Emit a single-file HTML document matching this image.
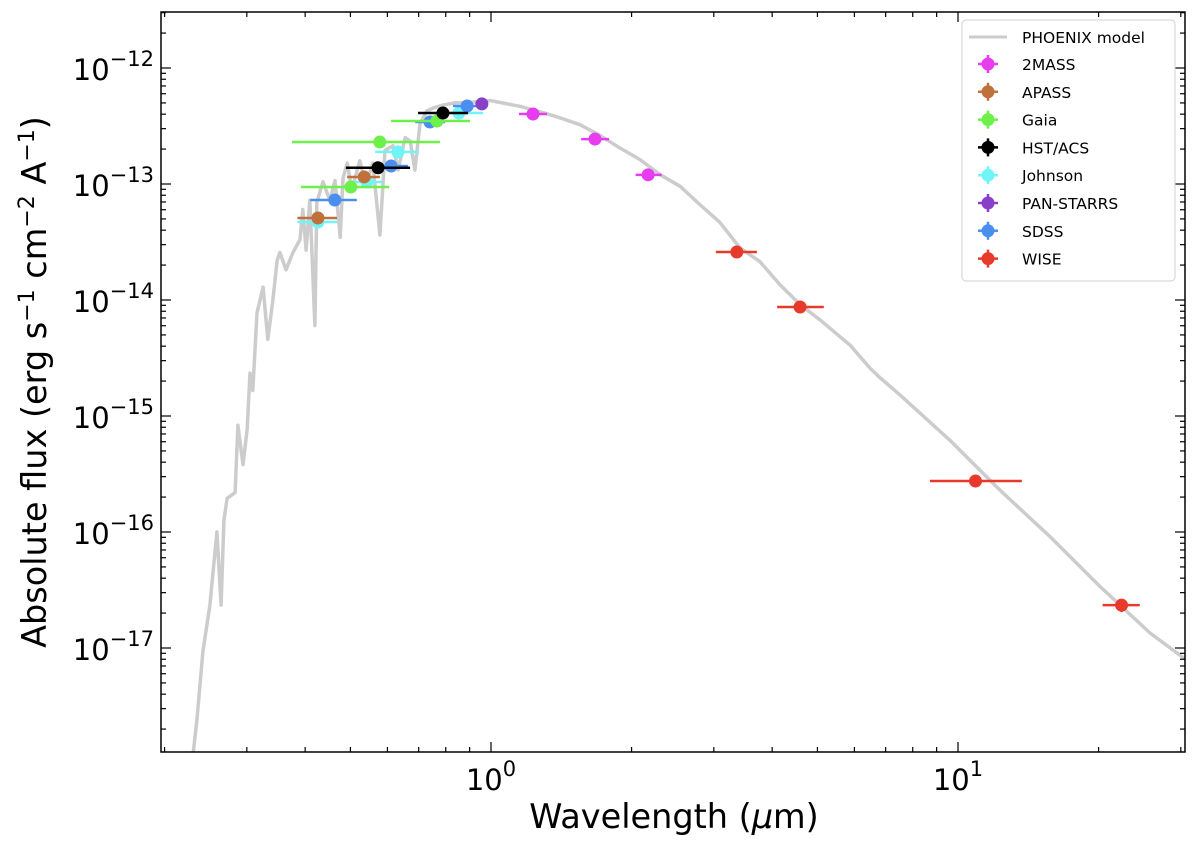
<!DOCTYPE html>
<html><head><meta charset="utf-8"><style>
html,body{margin:0;padding:0;background:#fff;}
svg{display:block;font-family:"DejaVu Sans","Liberation Sans",sans-serif;}
</style></head><body>
<svg id="chart" width="1200" height="847" viewBox="0 0 1200 847">
<g id="model-layer"></g>
<g id="points-layer"></g>
<g id="axes-layer"></g>
<text x="674" y="828" text-anchor="middle" font-size="33.5">Wavelength (<tspan font-style="italic">μ</tspan>m)</text>
<text transform="translate(46,382) rotate(-90)" text-anchor="middle" font-size="33.5">Absolute flux (erg s<tspan dy="-12" font-size="22">−1</tspan><tspan dy="12"> cm</tspan><tspan dy="-12" font-size="22">−2</tspan><tspan dy="12"> A</tspan><tspan dy="-12" font-size="22">−1</tspan><tspan dy="12">)</tspan></text>
<g id="legend"></g>
</svg>
<script>
// ---- data ----
const modelLogWl = [-0.640,-0.630,-0.617,-0.602,-0.587,-0.578,-0.572,-0.565,-0.548,-0.542,-0.531,-0.522,-0.516,-0.510,-0.501,-0.488,-0.478,-0.467,-0.458,-0.452,-0.439,-0.424,-0.409,-0.403,-0.396,-0.388,-0.377,-0.373,-0.360,-0.345,-0.334,-0.323,-0.317,-0.308,-0.298,-0.281,-0.268,-0.253,-0.238,-0.227,-0.210,-0.199,-0.184,-0.173,-0.163,-0.152,-0.137,-0.120,-0.103,-0.077,-0.051,-0.002,0.062,0.116,0.148,0.191,0.233,0.276,0.319,0.362,0.405,0.448,0.490,0.533,0.576,0.619,0.662,0.704,0.769,0.812,0.833,0.876,0.983,1.090,1.197,1.304,1.411,1.488];
const modelLogF = [-17.99,-17.63,-17.03,-16.63,-16.00,-16.63,-15.90,-15.71,-15.66,-15.08,-15.42,-15.11,-14.63,-14.78,-14.11,-13.89,-14.34,-14.00,-13.66,-13.59,-13.74,-13.59,-13.48,-13.22,-13.57,-13.14,-14.22,-13.16,-12.98,-13.14,-12.97,-13.46,-12.95,-12.82,-13.05,-12.80,-13.01,-12.82,-13.44,-12.71,-12.67,-12.88,-12.60,-12.63,-12.88,-12.48,-12.37,-12.34,-12.32,-12.30,-12.30,-12.28,-12.33,-12.39,-12.43,-12.49,-12.58,-12.69,-12.79,-12.92,-13.02,-13.18,-13.33,-13.55,-13.67,-13.87,-14.04,-14.17,-14.39,-14.59,-14.67,-14.82,-15.21,-15.64,-16.04,-16.47,-16.87,-17.10];

const surveys = ["2MASS","APASS","Gaia","HST/ACS","Johnson","PAN-STARRS","SDSS","WISE"];
const surveyColors = ["#e83cf0","#c0703a","#6ef04a","#000000","#6ff5f8","#8a3fc8","#4a8ff0","#e83a2a"];
const pointSurvey = [4,4,4,4, 1,1, 6,6,6,6, 2,2,2, 3,3, 5, 0,0,0, 7,7,7,7];
const pointWl   = [0.426,0.542,0.632,0.854, 0.426,0.535, 0.463,0.611,0.740,0.889, 0.578,0.501,0.766, 0.573,0.789, 0.956, 1.23,1.67,2.17, 3.36,4.59,10.9,22.4];
const pointWlLo = [0.385,0.504,0.565,0.759, 0.385,0.492, 0.410,0.565,0.688,0.829, 0.375,0.392,0.611, 0.489,0.698, 0.940, 1.148,1.56,2.04, 3.03,4.10,8.71,20.4];
const pointWlHi = [0.468,0.587,0.701,0.962, 0.468,0.578, 0.516,0.664,0.797,0.980, 0.778,0.605,0.902, 0.671,0.893, 0.975, 1.318,1.79,2.32, 3.71,5.16,13.7,24.5];
const pointFlux = [4.70e-14,1.04e-13,1.89e-13,4.09e-13, 5.09e-14,1.15e-13, 7.28e-14,1.43e-13,3.42e-13,4.70e-13, 2.30e-13,9.42e-14,3.49e-13, 1.38e-13,4.09e-13, 4.9e-13, 4.01e-13,2.44e-13,1.20e-13, 2.59e-14,8.7e-15,2.75e-16,2.34e-17];
const pointFluxErr = [0,0,0,0, 0,0, 0,0,0,0, 0,0,0, 0,0, 0, 0,0,0, 0,0,0,3e-18];

const xTickExp = [0,1];
const yTickExp = [-12,-13,-14,-15,-16,-17];

// ---- axes ----
const L=161,R=1185,T=12,B=752;
const X0=491, XD=467, Y0=68, YD=116;
function xPx(lw){return X0+XD*lw;}
function yPx(lf){return Y0-YD*(lf+12);}
const NS="http://www.w3.org/2000/svg";
function mk(tag,attrs,parent){const e=document.createElementNS(NS,tag);for(const k in attrs)e.setAttribute(k,attrs[k]);parent.appendChild(e);return e;}

const svg=document.getElementById('chart');
const defs=mk('defs',{},svg);
const cp=mk('clipPath',{id:'clip'},defs);
mk('rect',{x:L,y:T,width:R-L,height:B-T},cp);

const mg=document.getElementById('model-layer');
mg.setAttribute('clip-path','url(#clip)');
let d='';
for(let i=0;i<modelLogWl.length;i++){d+=(i?'L':'M')+xPx(modelLogWl[i]).toFixed(1)+','+yPx(modelLogF[i]).toFixed(1);}
const mp=mk('path',{d:d,fill:'none',stroke:'#cccccc','stroke-width':3.5,'stroke-linejoin':'round'},mg);



const pg=document.getElementById('points-layer');
for(let i=0;i<pointWl.length;i++){
  const c=surveyColors[pointSurvey[i]];
  const g=mk('g',{},pg);
  
  
  const cy=yPx(Math.log10(pointFlux[i]));
  mk('line',{x1:xPx(Math.log10(pointWlLo[i])),x2:xPx(Math.log10(pointWlHi[i])),y1:cy,y2:cy,stroke:c,'stroke-width':2.5},g);
  if(pointFluxErr[i]>0){
    mk('line',{x1:xPx(Math.log10(pointWl[i])),x2:xPx(Math.log10(pointWl[i])),y1:yPx(Math.log10(pointFlux[i]+pointFluxErr[i])),y2:yPx(Math.log10(pointFlux[i]-pointFluxErr[i])),stroke:c,'stroke-width':2.5},g);
  }
  mk('circle',{cx:xPx(Math.log10(pointWl[i])),cy:cy,r:6.5,fill:c},g);
}

const ag=document.getElementById('axes-layer');
const frame=mk('rect',{x:L,y:T,width:R-L,height:B-T,fill:'none',stroke:'#000','stroke-width':1.5},ag);


for(let e=-1;e<=1;e++){for(let m=1;m<10;m++){
  const x=xPx(e+Math.log10(m)); if(x<L||x>R)continue;
  const len=m===1?10:5;
  mk('line',{x1:x,x2:x,y1:B,y2:B-len,stroke:'#000','stroke-width':1.2},ag);
  mk('line',{x1:x,x2:x,y1:T,y2:T+len,stroke:'#000','stroke-width':1.2},ag);
}}
xTickExp.forEach(e=>{
  const t=mk('text',{x:xPx(e),y:790,'text-anchor':'middle','font-size':29},ag);
  
  
  t.innerHTML='10<tspan dy="-14" font-size="21">'+e+'</tspan>';
});
for(let e=-18;e<=-11;e++){for(let m=1;m<10;m++){
  const y=yPx(e+Math.log10(m)); if(y<T||y>B)continue;
  const len=m===1?10:5;
  mk('line',{x1:L,x2:L+len,y1:y,y2:y,stroke:'#000','stroke-width':1.2},ag);
  mk('line',{x1:R,x2:R-len,y1:y,y2:y,stroke:'#000','stroke-width':1.2},ag);
}}
yTickExp.forEach(e=>{
  const t=mk('text',{x:154,y:yPx(e)+12,'font-size':29,'text-anchor':'end'},ag);
  
  
  t.innerHTML='10<tspan dy="-14" font-size="21">−'+(-e)+'</tspan>';
});

const lg=document.getElementById('legend');
const lb=mk('rect',{x:962,y:20,width:213,height:261,rx:4,fill:'#fff',stroke:'#d0d0d0','stroke-width':1},lg);


const e0=mk('g',{},lg);


mk('line',{x1:969,x2:1007,y1:37,y2:37,stroke:'#cccccc','stroke-width':3},e0);
const t0=mk('text',{x:1022,y:43,'font-size':15.5},e0); t0.textContent='PHOENIX model';
surveys.forEach((s,i)=>{
  const y=64+i*27.8;
  const g=mk('g',{},lg);
  
  
  mk('line',{x1:978,x2:998,y1:y,y2:y,stroke:surveyColors[i],'stroke-width':2.5},g);
  mk('line',{x1:988,x2:988,y1:y-9,y2:y+9,stroke:surveyColors[i],'stroke-width':2.5},g);
  mk('circle',{cx:988,cy:y,r:6.5,fill:surveyColors[i]},g);
  const t=mk('text',{x:1022,y:y+6,'font-size':15.5},g); t.textContent=s;
});
</script>
</body></html>
